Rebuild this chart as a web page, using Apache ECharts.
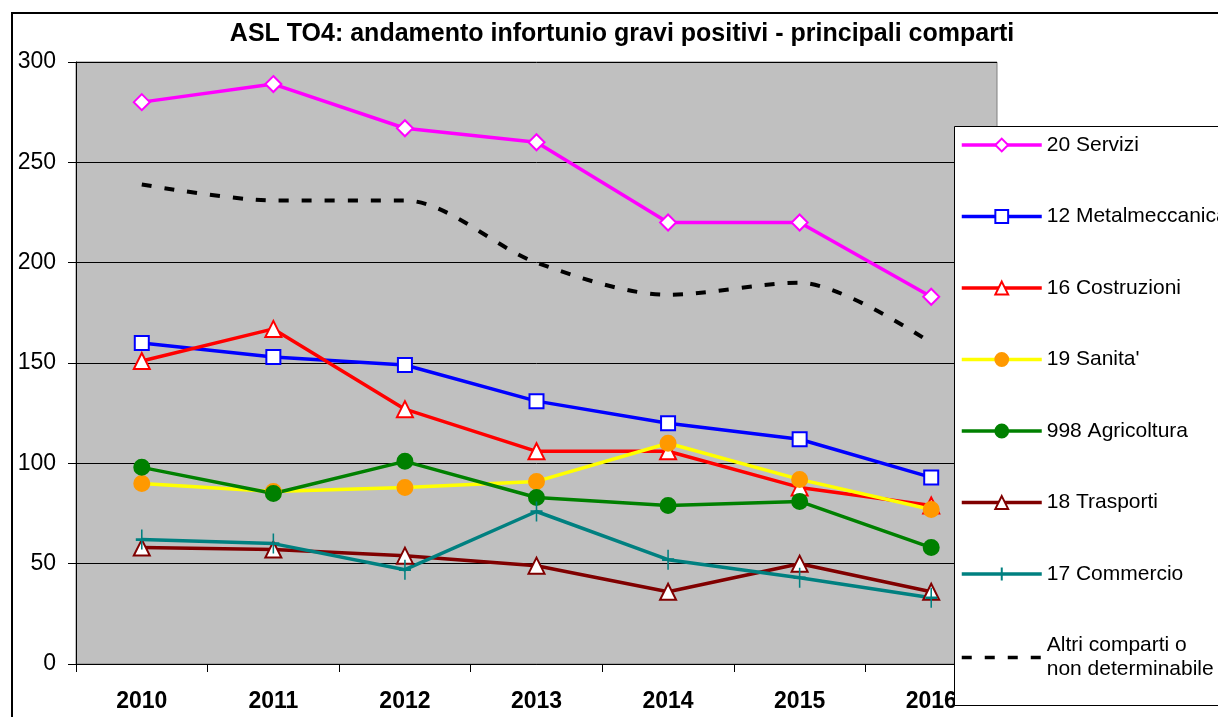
<!DOCTYPE html>
<html>
<head>
<meta charset="utf-8">
<script src="https://cdn.jsdelivr.net/npm/echarts@6/dist/echarts.min.js"></script>
<style>
html,body{margin:0;padding:0;background:#fff;}
#c{width:1218px;height:717px;}
</style>
</head>
<body>
<div id="c"></div>
<script>
const years = ['2010','2011','2012','2013','2014','2015','2016'];
const servizi = [280, 289, 267, 260, 220, 220, 183];
const metalmeccanica = [160, 153, 149, 131, 120, 112, 93];
const costruzioni = [151, 167, 127, 106, 106, 88, 79];
const sanita = [90, 86, 88, 91, 110, 92, 77];
const agricoltura = [98, 85, 101, 83, 79, 81, 58];
const trasporti = [58, 57, 54, 49, 36, 50, 36];
const commercio = [62, 60, 47, 76, 52, 43, 33];
const altri = [239, 231, 231, 200, 184, 190, 160];
const yTicks = [0, 50, 100, 150, 200, 250, 300];

const FONT = '"Liberation Sans", Arial, sans-serif';
const plusPath = 'path://M5,0 L5,10 M0,5 L10,5';

function lineSeries(name, data, color, symbol, fill, size, extra) {
  return Object.assign({
    name: name,
    type: 'line',
    data: data,
    symbol: symbol,
    symbolSize: size,
    showSymbol: true,
    lineStyle: { color: color, width: 3.5 },
    itemStyle: { color: fill, borderColor: symbol === 'circle' ? fill : color, borderWidth: 2 },
    emphasis: { disabled: true },
    animation: false
  }, extra || {});
}

const chart = echarts.init(document.getElementById('c'), null, { renderer: 'canvas' });
chart.setOption({
  animation: false,
  backgroundColor: '#ffffff',
  textStyle: { fontFamily: FONT },
  title: {
    text: 'ASL TO4: andamento infortunio gravi positivi - principali comparti',
    left: 622,
    top: 22,
    padding: 0,
    textAlign: 'center',
    textStyle: { fontFamily: FONT, fontSize: 25, fontWeight: 'bold', color: '#000' }
  },
  graphic: [
    { type: 'rect', z: -10, shape: { x: 12, y: 13, width: 1300, height: 800 },
      style: { fill: 'none', stroke: '#000', lineWidth: 2 } },
    { type: 'rect', z: 100, shape: { x: 954.5, y: 126.5, width: 300, height: 579 },
      style: { fill: '#ffffff', stroke: '#000', lineWidth: 1 } }
  ],
  legend: {
    orient: 'vertical',
    left: 954,
    top: 126,
    padding: [7, 0, 0, 6],
    z: 110,
    itemWidth: 80,
    itemHeight: 16,
    itemGap: 47.5,
    selectedMode: false,
    lineStyle: { width: 3.5 },
    textStyle: { fontFamily: FONT, fontSize: 21, color: '#000', lineHeight: 24 },
    data: ['20 Servizi', '12 Metalmeccanica', '16 Costruzioni', "19 Sanita'", '998 Agricoltura', '18 Trasporti', '17 Commercio', 'Altri comparti o\nnon determinabile']
  },
  grid: {
    left: 76, top: 62, right: 221, bottom: 53,
    show: true, backgroundColor: '#C0C0C0', borderColor: '#808080', borderWidth: 1
  },
  xAxis: {
    type: 'category',
    data: years,
    boundaryGap: true,
    axisLine: { show: true, lineStyle: { color: '#000', width: 1 } },
    axisTick: { show: true, interval: 0, length: 8, inside: false, lineStyle: { color: '#000' } },
    axisLabel: { fontFamily: FONT, fontSize: 23, fontWeight: 'bold', color: '#000', margin: 26, interval: 0 },
    splitLine: { show: false }
  },
  yAxis: {
    type: 'value',
    min: yTicks[0],
    max: yTicks[yTicks.length - 1],
    interval: 50,
    axisLine: { show: true, lineStyle: { color: '#000', width: 1 } },
    axisTick: { show: true, length: 8, inside: false, lineStyle: { color: '#000' } },
    axisLabel: { fontFamily: FONT, fontSize: 23, color: '#000', margin: 20 },
    splitLine: { show: true, lineStyle: { color: '#000', width: 1 } }
  },
  series: [
    lineSeries('20 Servizi', servizi, '#FF00FF', 'diamond', '#ffffff', 16),
    lineSeries('12 Metalmeccanica', metalmeccanica, '#0000FF', 'rect', '#ffffff', 14),
    lineSeries('16 Costruzioni', costruzioni, '#FF0000', 'triangle', '#ffffff', 16),
    lineSeries("19 Sanita'", sanita, '#FFFF00', 'circle', '#FF9900', 15),
    lineSeries('998 Agricoltura', agricoltura, '#008000', 'circle', '#008000', 15),
    lineSeries('18 Trasporti', trasporti, '#800000', 'triangle', '#ffffff', 16),
    lineSeries('17 Commercio', commercio, '#008080', plusPath, 'none', [12, 20],
      { itemStyle: { color: 'none', borderColor: '#008080', borderWidth: 2 } }),
    {
      name: 'Altri comparti o\nnon determinabile',
      type: 'line',
      data: altri,
      symbol: 'none',
      smooth: 0.3,
      lineStyle: { color: '#000', width: 4, type: [10, 13] },
      itemStyle: { color: 'transparent', borderColor: 'transparent' },
      emphasis: { disabled: true },
      animation: false
    }
  ]
});
</script>
</body>
</html>
